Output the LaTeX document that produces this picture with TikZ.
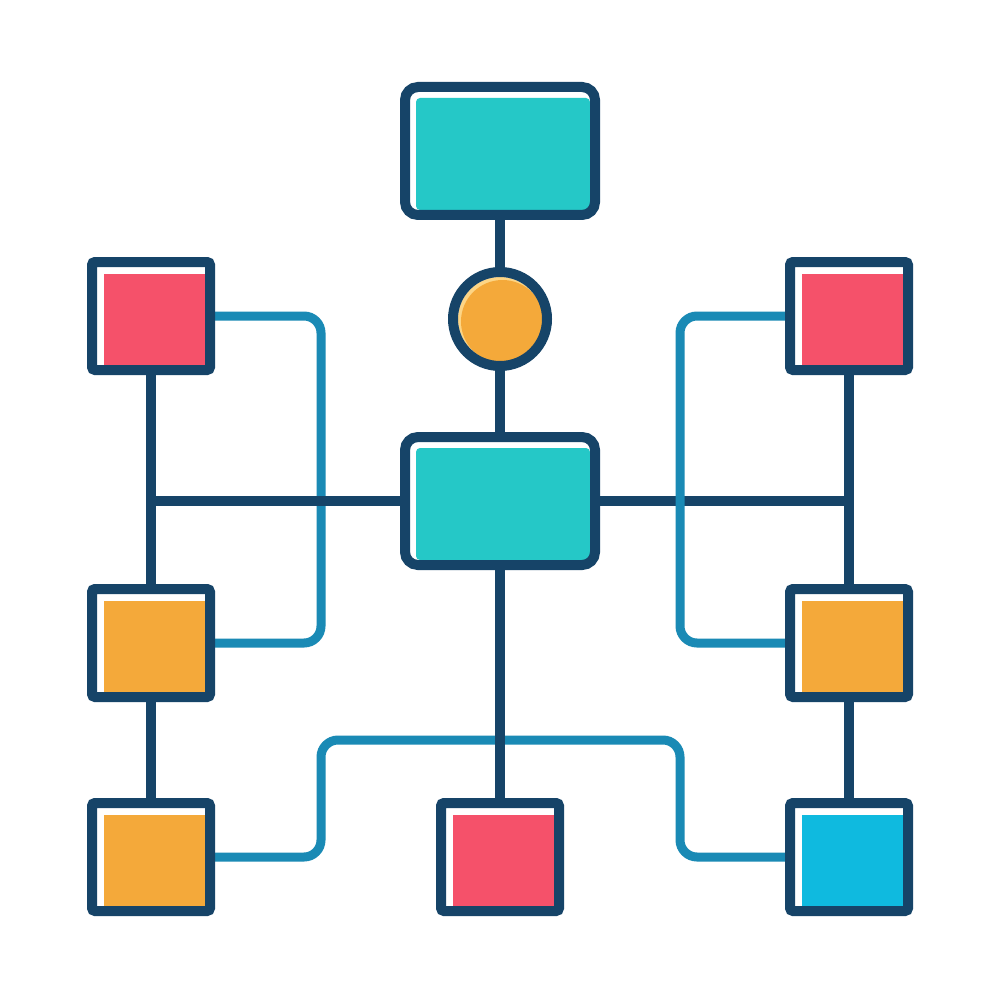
\documentclass[tikz,border=0pt]{standalone}
\usetikzlibrary{backgrounds,calc}
\definecolor{navy}{HTML}{164468}
\definecolor{tealf}{HTML}{25C8C7}
\definecolor{redf}{HTML}{F5516A}
\definecolor{orangef}{HTML}{F4A93A}
\definecolor{cyanf}{HTML}{0FBADF}
\definecolor{linkblue}{HTML}{1A8AB5}
\definecolor{hilite}{HTML}{FDD585}
\tikzset{
  boxbase/.style={draw=navy, line width=10pt, fill=white, inner sep=0pt, outer sep=0pt},
  bigbox/.style={boxbase, rectangle, rounded corners=13pt, minimum width=190pt, minimum height=128pt,
    path picture={\fill[#1, rounded corners=4pt] ([xshift=11pt,yshift=-11pt]path picture bounding box.north west) rectangle ([xshift=-5pt,yshift=5pt]path picture bounding box.south east);}},
  smallbox/.style={boxbase, rectangle, rounded corners=3pt, minimum width=118pt, minimum height=108pt,
    path picture={\fill[#1, sharp corners] ([xshift=12pt,yshift=-12pt]path picture bounding box.north west) rectangle (path picture bounding box.south east);}},
  hub/.style={boxbase, circle, minimum size=94pt,
    path picture={\fill[hilite] (path picture bounding box.center) circle (42pt);
                  \fill[orangef] ([xshift=2.5pt,yshift=-2.5pt]path picture bounding box.center) circle (41.5pt);}},
  darkline/.style={draw=navy, line width=10pt},
  bluelink/.style={draw=linkblue, line width=9pt, rounded corners=17pt},
}
\begin{document}
\begin{tikzpicture}[x=1pt,y=-1pt]
\useasboundingbox (0,0) rectangle (1000,1000);
% nodes
\node[bigbox=tealf] (TB) at (500,151) {};
\node[hub] (CI) at (500,319) {};
\node[bigbox=tealf] (CB) at (500,501) {};
\node[smallbox=redf] (TL) at (151,316) {};
\node[smallbox=orangef] (ML) at (151,643) {};
\node[smallbox=orangef] (BL) at (151,857) {};
\node[smallbox=redf] (BC) at (500,857) {};
\node[smallbox=redf] (TR) at (849,316) {};
\node[smallbox=orangef] (MR) at (849,643) {};
\node[smallbox=cyanf] (BR) at (849,857) {};
% connectors
\begin{scope}[on background layer]
  \fill[white] (0,0) rectangle (1000,1000);
  \draw[bluelink] (TL.east) -- ++(111,0) |- (ML.east);
  \draw[darkline] (TL.south |- CB.west) -- (CB.west);
  \draw[darkline] (CB.east) -- (TR.south |- CB.east);
  \draw[bluelink] (TR.west) -- ++(-110,0) |- (MR.west);
  \draw[bluelink] (BL.east) -- ++(111,0) -- ++(0,-117) -- ++(359,0) -- ++(0,117) -- (BR.west);
  \draw[darkline] (TB.south) -- (CI.north);
  \draw[darkline] (CI.south) -- (CB.north);
  \draw[darkline] (CB.south) -- (BC.north);
  \draw[darkline] (TL.south) -- (ML.north);
  \draw[darkline] (ML.south) -- (BL.north);
  \draw[darkline] (TR.south) -- (MR.north);
  \draw[darkline] (MR.south) -- (BR.north);
\end{scope}
\end{tikzpicture}
\end{document}
